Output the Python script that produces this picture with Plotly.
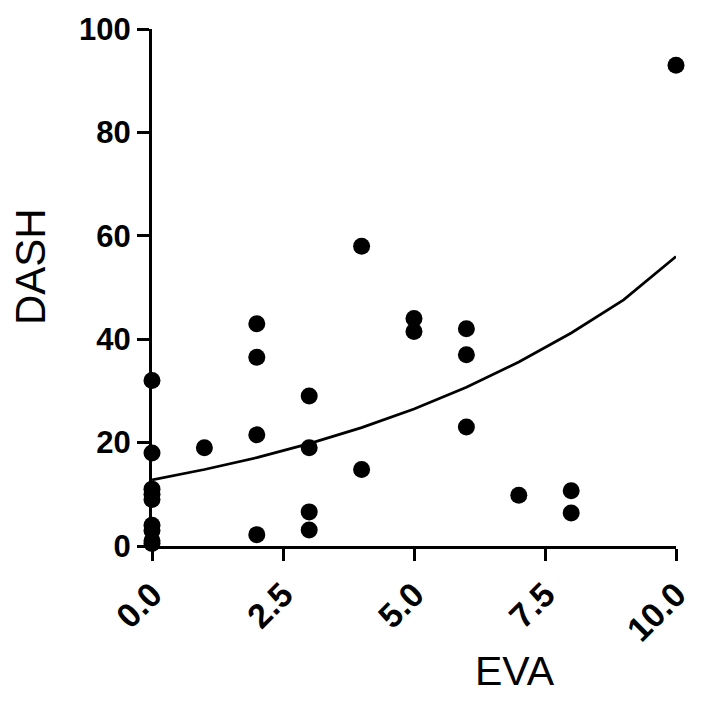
import plotly.graph_objects as go

# Scatter data (EVA vs DASH)
eva = [0, 0, 0, 0, 0, 0, 0, 0, 0,
       1,
       2, 2, 2, 2,
       3, 3, 3, 3,
       4, 4,
       5, 5,
       6, 6, 6,
       7,
       8, 8,
       10]
dash = [32, 18, 11, 10, 9, 4, 3, 1, 0.5,
        19,
        43, 36.5, 21.5, 2.2,
        29, 19, 6.6, 3.1,
        58, 14.8,
        44, 41.5,
        42, 37, 23,
        9.8,
        10.7, 6.4,
        93]

# Fitted curve
fit_x = [0, 1, 2, 3, 4, 5, 6, 7, 8, 9, 10]
fit_y = [12.8, 14.8, 17.1, 19.8, 22.9, 26.5, 30.7, 35.6, 41.2, 47.6, 56.0]

x_ticks = [0, 2.5, 5, 7.5, 10]
y_ticks = [0, 20, 40, 60, 80, 100]

font_fam = "Liberation Sans, Arial, sans-serif"

# the page body adds an 8px offset, so the figure is sized to fit inside it
W, H = 687, 688
L, R, T, B = 144, 668, 21, 538  # plot area in figure pixels

def px(x):
    return (x - L) / (R - L)

def py(y):
    return (B - y) / (B - T)

fig = go.Figure()
fig.add_trace(go.Scatter(x=fit_x, y=fit_y, mode="lines",
                         line=dict(color="black", width=2.7, shape="linear"),
                         hoverinfo="skip", cliponaxis=False))
fig.add_trace(go.Scatter(x=eva, y=dash, mode="markers",
                         marker=dict(color="black", size=17),
                         cliponaxis=False))

fig.update_layout(
    width=W, height=H,
    margin=dict(l=L, r=W - R, t=T, b=H - B),
    paper_bgcolor="white", plot_bgcolor="white",
    showlegend=False,
    font=dict(family=font_fam, color="black"),
)
fig.update_xaxes(range=[0, 10], tickvals=x_ticks, ticktext=[f"{v:.1f}" for v in x_ticks],
                 tickangle=-45, showgrid=False, zeroline=False, automargin=False,
                 showline=True, linecolor="black", linewidth=3,
                 ticks="outside", ticklen=12, tickwidth=3, tickcolor="black",
                 tickfont=dict(size=34, family=font_fam, weight="bold"))
fig.update_yaxes(range=[0, 100], tickvals=y_ticks, showgrid=False, zeroline=False,
                 automargin=False,
                 showline=True, linecolor="black", linewidth=3,
                 ticks="outside", ticklen=12, tickwidth=3, tickcolor="black",
                 tickfont=dict(size=31, family=font_fam, weight="bold"))

fig.add_annotation(text="DASH", xref="paper", yref="paper",
                   x=px(22), y=py(259),
                   xanchor="center", yanchor="middle", textangle=-90, showarrow=False,
                   font=dict(size=42, family=font_fam))
fig.add_annotation(text="EVA", xref="paper", yref="paper",
                   x=px(507), y=py(H - 1),
                   xanchor="center", yanchor="bottom", showarrow=False,
                   borderpad=0,
                   font=dict(size=41, family=font_fam))

fig.write_html("out.html")
